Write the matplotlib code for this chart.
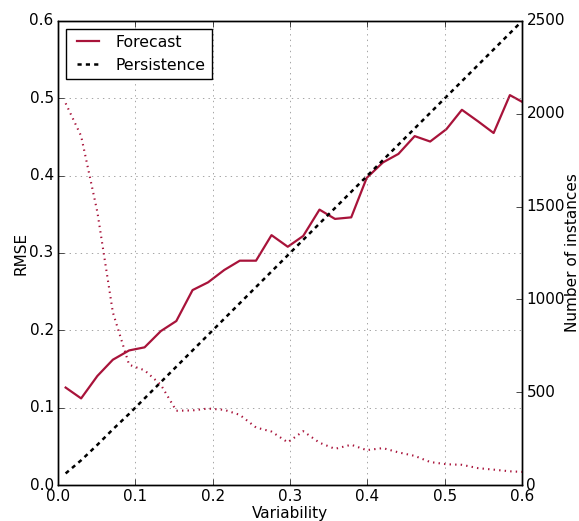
import matplotlib
matplotlib.use("Agg")
import matplotlib.pyplot as plt

# bin centres (variability)
variability = [0.010, 0.030, 0.051, 0.071, 0.092, 0.112, 0.133, 0.153, 0.174, 0.194,
               0.215, 0.235, 0.256, 0.276, 0.297, 0.317, 0.338, 0.358, 0.379, 0.399,
               0.420, 0.440, 0.461, 0.481, 0.502, 0.522, 0.543, 0.563, 0.584, 0.604]

forecast_rmse = [0.126, 0.112, 0.141, 0.162, 0.174, 0.178, 0.199, 0.212, 0.252, 0.262,
                 0.278, 0.290, 0.290, 0.323, 0.308, 0.322, 0.356, 0.344, 0.346, 0.397,
                 0.417, 0.428, 0.451, 0.444, 0.460, 0.485, 0.470, 0.455, 0.504, 0.493]

persistence_rmse = [0.015, 0.032, 0.052, 0.072, 0.092, 0.112, 0.133, 0.153, 0.174, 0.194,
                    0.215, 0.235, 0.256, 0.276, 0.297, 0.317, 0.338, 0.358, 0.379, 0.399,
                    0.420, 0.440, 0.461, 0.481, 0.502, 0.522, 0.543, 0.563, 0.584, 0.604]

n_instances = [2056, 1880, 1470, 930, 648, 618, 540, 400, 402, 412,
               405, 378, 310, 288, 230, 290, 228, 195, 217, 188,
               199, 176, 157, 124, 112, 109, 91, 83, 74, 70]

plt.style.use('classic')
plt.rcParams['font.size'] = 11
plt.rcParams['lines.scale_dashes'] = False
plt.rcParams['figure.facecolor'] = 'white'
plt.rcParams['savefig.facecolor'] = 'white'

red = '#a8133a'

fig = plt.figure(figsize=(5.79, 5.21), dpi=100)
ax1 = fig.add_axes([0.100, 0.069, 0.802, 0.891])

ax1.plot(variability, forecast_rmse, color=red, linewidth=1.6, label='Forecast')
ax1.plot(variability, persistence_rmse, color='black', linewidth=1.8,
         linestyle=(0, (3, 3)), label='Persistence')
ax1.set_xlim(0, 0.6)
ax1.set_ylim(0, 0.6)
ax1.set_xlabel('Variability', labelpad=1)
ax1.set_ylabel('RMSE', labelpad=1)
ax1.tick_params(pad=3)
ax1.grid(True, color='gray')
ax1.legend(loc='upper left', fontsize=11.3)

ax2 = ax1.twinx()
ax2.plot(variability, n_instances, color=red, linewidth=1.5, linestyle=':')
ax2.set_ylim(0, 2500)
ax2.set_xlim(0, 0.6)
ax2.set_ylabel('Number of instances', labelpad=0)
ax2.tick_params(pad=3)

fig.savefig('out.png', dpi=100)
